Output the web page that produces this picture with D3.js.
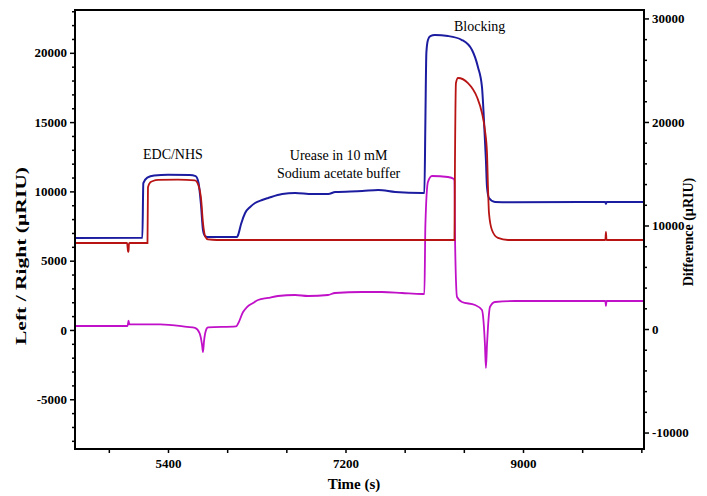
<!DOCTYPE html>
<html>
<head>
<meta charset="utf-8">
<script src="https://cdn.jsdelivr.net/npm/d3@7"></script>
<style>
  body { margin: 0; background: #fff; }
  svg { display: block; }
  .tick text { font-family: "Liberation Serif", "Times New Roman", serif; font-weight: bold; font-size: 13px; }
</style>
</head>
<body>
<svg id="chart"></svg>
<script>
(function() {
  /* Data: [time (s), value] */
  var leftSignal = [
    [4457, 6640], [5140, 6650], [5150, 10600], [5190, 11000], [5260, 11150], [5400, 11200],
    [5620, 11180], [5680, 11100], [5710, 10600], [5735, 9000], [5755, 7200], [5775, 6780],
    [5800, 6710], [6100, 6710], [6111, 6854], [6141, 7648], [6182, 8442], [6233, 8874],
    [6283, 9163], [6355, 9380], [6416, 9524], [6558, 9812], [6690, 9885], [6862, 9812],
    [7025, 9812], [7096, 9957], [7370, 10029], [7533, 10101], [7705, 9957], [7979, 9885],
    [8000, 9890], [8010, 15000], [8020, 20000], [8036, 20920], [8060, 21200], [8107, 21284],
    [8239, 21212], [8381, 20924], [8483, 20202], [8543, 18975], [8584, 17532], [8604, 15152],
    [8624, 12266], [8635, 10317], [8655, 9524], [8716, 9235], [8900, 9220], [9835, 9235],
    [9841, 9100], [9847, 9235], [10227, 9235]
  ];
  var rightSignal = [
    [4457, 6277], [4985, 6277], [4994, 5700], [5000, 5630], [5004, 6200], [5010, 6277],
    [5192, 6277], [5197, 10300], [5220, 10650], [5248, 10750], [5300, 10830], [5500, 10850],
    [5674, 10800], [5700, 10600], [5735, 9500], [5755, 7720], [5780, 6700], [5806, 6530],
    [5897, 6494], [8305, 6494], [8310, 12000], [8320, 17821], [8341, 18182], [8442, 17821],
    [8533, 16811], [8584, 15657], [8614, 14430], [8635, 12771], [8645, 10317], [8655, 8442],
    [8685, 7215], [8746, 6640], [8848, 6494], [9835, 6494], [9841, 7071], [9847, 6494],
    [10227, 6494]
  ];
  var difference = [
    [4457, 290], [4990, 290], [5000, 800], [5008, 450], [5319, 450], [5593, 200], [5674, 100],
    [5720, -400], [5745, -1500], [5755, -2220], [5765, -1200], [5790, 0], [5806, 150],
    [6090, 250], [6110, 500], [6161, 1642], [6201, 2125], [6262, 2512], [6313, 2801],
    [6414, 3000], [6515, 3188], [6688, 3284], [6820, 3188], [7022, 3284], [7093, 3478],
    [7367, 3574], [7570, 3574], [7773, 3478], [7976, 3381], [8000, 3380], [8010, 10000],
    [8036, 14200], [8077, 14780], [8239, 14683], [8300, 14490], [8305, 14300], [8312, 8000],
    [8331, 3091], [8381, 2608], [8513, 2318], [8584, 1835], [8604, 193], [8614, -1500],
    [8624, -3767], [8635, -1500], [8645, 193], [8665, 2125], [8716, 2608], [8919, 2705],
    [9835, 2705], [9841, 2222], [9847, 2705], [10227, 2705]
  ];
  var timeTicks = [4800, 5400, 6000, 6600, 7200, 7800, 8400, 9000, 9600, 10200];
  var timeLabels = [5400, 7200, 9000];
  var leftTicks = [-5000, 0, 5000, 10000, 15000, 20000];
  var rightTicks = [-10000, 0, 10000, 20000, 30000];
  var notes = [
    { text: "EDC/NHS", t: 5450, v: 12350 },
    { text: "Urease in 10 mM", t: 7130, v: 12250 },
    { text: "Sodium acetate buffer", t: 7130, v: 11000 },
    { text: "Blocking", t: 8560, v: 21550 }
  ];

  /* SVG properties */
  var width = 707;
  var height = 496;
  var margin = { top: 10, right: 63, bottom: 47, left: 75 };

  var svg = d3.select("#chart")
              .attr("width", width)
              .attr("height", height);

  var x = d3.scaleLinear().domain([4457, 10227]).range([margin.left, width - margin.right]);
  var yLeft = d3.scaleLinear().domain([-8590, 23090]).range([height - margin.bottom, margin.top]);
  var yRight = d3.scaleLinear().domain([-11590, 30815]).range([height - margin.bottom, margin.top]);

  /* lines */
  function lineFor(scale) {
    return d3.line()
             .x(function(d) { return x(d[0]); })
             .y(function(d) { return scale(d[1]); })
             .curve(d3.curveMonotoneX);
  }
  svg.append("path").datum(difference)
     .attr("d", lineFor(yRight))
     .attr("fill", "none").attr("stroke", "#c010c8").attr("stroke-width", 1.8);
  svg.append("path").datum(leftSignal)
     .attr("d", lineFor(yLeft))
     .attr("fill", "none").attr("stroke", "#1c1ca0").attr("stroke-width", 2);
  svg.append("path").datum(rightSignal)
     .attr("d", lineFor(yLeft))
     .attr("fill", "none").attr("stroke", "#b81414").attr("stroke-width", 1.8);

  /* frame */
  svg.append("rect")
     .attr("x", margin.left).attr("y", margin.top)
     .attr("width", width - margin.left - margin.right)
     .attr("height", height - margin.top - margin.bottom)
     .attr("fill", "none").attr("stroke", "#000").attr("stroke-width", 2);

  /* axes */
  svg.append("g")
     .attr("transform", "translate(0," + (height - margin.bottom) + ")")
     .call(d3.axisBottom(x).tickValues(timeTicks).tickSize(4).tickPadding(6)
             .tickFormat(function(d) { return timeLabels.indexOf(d) >= 0 ? String(d) : ""; }));
  svg.append("g")
     .attr("transform", "translate(" + margin.left + ",0)")
     .call(d3.axisLeft(yLeft).tickValues(leftTicks).tickSize(5).tickPadding(3)
             .tickFormat(function(d) { return String(d); }));
  svg.append("g")
     .attr("transform", "translate(" + margin.left + ",0)")
     .call(d3.axisLeft(yLeft).tickValues(d3.range(-8000, 23001, 1000).filter(function(d) { return d % 5000 !== 0; }))
             .tickSize(3).tickFormat(""));
  svg.append("g")
     .attr("transform", "translate(" + (width - margin.right) + ",0)")
     .call(d3.axisRight(yRight).tickValues(rightTicks).tickSize(5).tickPadding(3)
             .tickFormat(function(d) { return String(d); }));
  svg.append("g")
     .attr("transform", "translate(" + (width - margin.right) + ",0)")
     .call(d3.axisRight(yRight).tickValues(d3.range(-10000, 30001, 2000).filter(function(d) { return d % 10000 !== 0; }))
             .tickSize(3).tickFormat(""));
  svg.selectAll(".domain").remove();
  svg.selectAll(".tick line").attr("stroke-width", 1.5);

  /* titles */
  var serif = "'Liberation Serif', 'Times New Roman', serif";
  svg.append("text")
     .attr("x", 354).attr("y", 489)
     .attr("text-anchor", "middle")
     .attr("font-family", serif).attr("font-weight", "bold").attr("font-size", 15)
     .text("Time (s)");
  svg.append("text")
     .attr("transform", "translate(26,256) rotate(-90)")
     .attr("text-anchor", "middle")
     .attr("font-family", serif).attr("font-weight", "bold").attr("font-size", 15)
     .attr("textLength", 178).attr("lengthAdjust", "spacingAndGlyphs")
     .text("Left / Right (\u00b5RIU)");
  svg.append("text")
     .attr("transform", "translate(693,232) rotate(-90)")
     .attr("text-anchor", "middle")
     .attr("font-family", serif).attr("font-weight", "bold").attr("font-size", 14)
     .text("Difference (\u00b5RIU)");

  /* annotations */
  svg.selectAll(".note")
     .data(notes)
     .enter()
     .append("text")
     .attr("class", "note")
     .attr("x", function(d) { return x(d.t); })
     .attr("y", function(d) { return yLeft(d.v); })
     .attr("text-anchor", "middle")
     .attr("font-family", serif).attr("font-size", 14)
     .text(function(d) { return d.text; });
})();
</script>
</body>
</html>
